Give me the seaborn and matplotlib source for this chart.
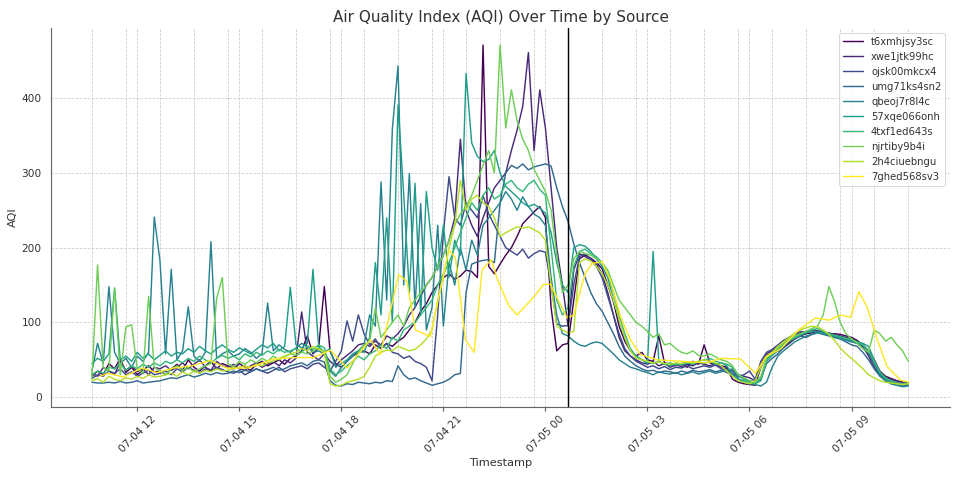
import matplotlib
matplotlib.use("Agg")
import matplotlib.pyplot as plt
import matplotlib.dates as mdates
import seaborn as sns
import pandas as pd
import numpy as np

# sources, in legend order
sources = ["t6xmhjsy3sc", "xwe1jtk99hc", "ojsk00mkcx4", "umg71ks4sn2", "qbeoj7r8l4c",
           "57xqe066onh", "4txf1ed643s", "njrtiby9b4i", "2h4ciuebngu", "7ghed568sv3"]

start = pd.Timestamp("2024-07-04 10:40")
step_min = 10   # readings every 10 minutes for the first nine sources

t6xm = [28, 35, 30, 45, 38, 52, 33, 40, 30, 36, 42, 34,
        35, 30, 38, 44, 36, 50, 40, 35, 42, 48, 38, 45,
        42, 38, 45, 40, 36, 44, 48, 42, 46, 50, 44, 52,
        55, 62, 82, 58, 66, 148, 62, 45, 40, 48, 55, 60,
        62, 58, 70, 65, 72, 68, 75, 80, 90, 100, 115, 125,
        140, 150, 160, 165, 158, 162, 170, 168, 160, 471, 175, 165,
        178, 190, 200, 215, 232, 240, 248, 255, 240, 120, 62, 70,
        72, 130, 185, 190, 186, 180, 172, 150, 128, 95, 75, 62,
        55, 60, 50, 48, 82, 46, 44, 42, 45, 40, 48, 44,
        70, 46, 44, 42, 40, 24, 20, 18, 17, 16, 40, 56,
        58, 62, 66, 72, 78, 82, 85, 86, 88, 86, 84, 85,
        84, 82, 80, 76, 70, 62, 50, 35, 28, 25, 22, 20,
        18]

xwe1 = [32, 28, 40, 35, 30, 48, 36, 42, 34, 38, 30, 40,
        38, 42, 36, 40, 46, 38, 44, 50, 40, 36, 48, 42,
        40, 44, 38, 36, 42, 46, 40, 44, 48, 42, 50, 46,
        52, 114, 60, 55, 50, 58, 48, 42, 50, 56, 62, 70,
        72, 68, 75, 70, 82, 78, 85, 95, 110, 120, 135, 150,
        160, 175, 190, 210, 240, 345, 250, 230, 215, 240, 260, 280,
        290, 300, 330, 357, 389, 461, 330, 411, 360, 280, 200, 150,
        95, 170, 192, 188, 184, 178, 165, 140, 110, 80, 62, 55,
        50, 46, 44, 48, 42, 45, 40, 43, 41, 44, 42, 46,
        44, 42, 45, 40, 38, 35, 30, 28, 26, 22, 45, 58,
        62, 68, 74, 80, 84, 86, 88, 90, 89, 87, 86, 84,
        82, 80, 78, 75, 68, 55, 40, 30, 26, 24, 22, 20,
        19]

ojsk = [25, 30, 28, 35, 32, 38, 30, 34, 28, 32, 36, 30,
        32, 35, 30, 38, 34, 40, 36, 32, 38, 35, 40, 37,
        34, 32, 36, 30, 34, 38, 35, 32, 36, 40, 34, 38,
        40, 42, 38, 44, 46, 40, 35, 48, 62, 102, 75, 110,
        85, 70, 78, 65, 72, 60, 58, 52, 55, 48, 45, 40,
        22, 110, 220, 295, 240, 230, 260, 250, 240, 270, 245, 230,
        215, 200, 195, 190, 198, 186, 192, 196, 194, 150, 98, 95,
        96, 150, 188, 192, 185, 175, 160, 135, 110, 85, 65, 55,
        48, 44, 40, 42, 38, 41, 37, 40, 39, 42, 38, 40,
        42, 40, 43, 38, 36, 32, 28, 30, 35, 24, 48, 60,
        64, 70, 76, 80, 84, 88, 86, 90, 88, 86, 84, 82,
        80, 78, 75, 72, 66, 58, 45, 32, 25, 22, 20, 18,
        18]

umg71 = [20, 19, 19, 20, 19, 21, 19, 20, 22, 19, 20, 21,
         22, 24, 26, 25, 28, 30, 27, 29, 32, 30, 33, 31,
         32, 35, 33, 36, 34, 38, 35, 37, 40, 36, 38, 42,
         44, 46, 42, 48, 50, 47, 22, 16, 15, 18, 17, 20,
         19, 18, 20, 19, 22, 21, 42, 30, 24, 26, 22, 19,
         16, 18, 20, 24, 30, 32, 140, 178, 181, 183, 184, 180,
         260, 300, 310, 306, 312, 304, 308, 310, 312, 309, 280, 255,
         235, 205, 180, 160, 140, 125, 115, 100, 85, 68, 55, 48,
         42, 38, 35, 36, 33, 35, 34, 32, 35, 33, 36, 34,
         35, 37, 34, 36, 33, 30, 28, 25, 22, 20, 24, 45,
         52, 58, 66, 74, 78, 82, 80, 84, 86, 84, 82, 80,
         78, 74, 70, 68, 60, 50, 38, 28, 22, 18, 16, 15,
         16]

qbeoj = [35, 72, 45, 148, 60, 45, 52, 40, 55, 48, 60, 241,
         183, 58, 171, 50, 62, 121, 55, 48, 60, 208, 52, 58,
         62, 55, 58, 65, 60, 52, 58, 126, 62, 70, 64, 60,
         66, 72, 68, 60, 62, 58, 35, 28, 40, 48, 55, 62,
         70, 110, 95, 288, 130, 359, 443, 150, 299, 120, 259, 90,
         120, 230, 95, 180, 150, 200, 170, 210, 190, 230, 240, 250,
         260, 275, 265, 250, 268, 255, 245, 240, 230, 160, 110, 85,
         82, 75, 70, 68, 72, 74, 72, 65, 58, 50, 45, 40,
         38, 35, 33, 30, 34, 32, 31, 33, 30, 32, 34, 31,
         33, 35, 32, 34, 36, 38, 25, 20, 18, 17, 15, 20,
         40, 55, 62, 68, 74, 78, 82, 84, 86, 85, 83, 80,
         78, 76, 74, 72, 70, 60, 45, 30, 22, 18, 16, 14,
         15]

xqe57 = [45, 52, 48, 58, 146, 50, 55, 48, 60, 52, 58, 50,
         56, 62, 55, 60, 58, 65, 60, 68, 62, 58, 65, 70,
         64, 60, 66, 62, 58, 64, 70, 66, 72, 62, 68, 147,
         70, 66, 72, 171, 68, 60, 65, 40, 45, 50, 58, 62,
         60, 80, 180, 110, 240, 100, 391, 272, 140, 286, 110, 275,
         200, 170, 230, 160, 210, 190, 433, 340, 322, 315, 318, 330,
         300, 282, 275, 268, 260, 255, 258, 253, 246, 220, 180, 150,
         140, 200, 204, 202, 195, 185, 175, 160, 130, 105, 80, 62,
         55, 50, 45, 195, 48, 44, 42, 45, 43, 46, 44, 47,
         45, 48, 44, 46, 42, 30, 24, 22, 20, 18, 22, 48,
         56, 62, 70, 76, 80, 83, 86, 88, 87, 86, 84, 82,
         80, 78, 76, 74, 72, 68, 50, 32, 24, 20, 18, 17,
         18]

txf4 = [30, 35, 32, 40, 38, 45, 36, 42, 38, 44, 40, 46,
        42, 48, 45, 50, 46, 52, 48, 55, 50, 46, 52, 56,
        52, 55, 50, 58, 54, 60, 56, 62, 58, 64, 60, 62,
        65, 60, 68, 64, 70, 66, 38, 30, 35, 42, 48, 55,
        50, 58, 62, 70, 65, 80, 75, 90, 95, 100, 110, 120,
        130, 150, 165, 180, 200, 220, 240, 260, 250, 270, 280, 265,
        270, 285, 290, 280, 275, 285, 290, 278, 270, 200, 130, 110,
        120, 175, 195, 198, 192, 188, 180, 165, 140, 110, 85, 65,
        55, 50, 48, 45, 48, 44, 46, 43, 45, 47, 44, 48,
        50, 52, 48, 46, 44, 40, 30, 24, 20, 18, 24, 50,
        58, 64, 70, 76, 80, 84, 88, 90, 92, 88, 85, 83,
        81, 79, 77, 74, 70, 62, 48, 34, 26, 22, 19, 18,
        19]

njrt = [25, 177, 40, 35, 146, 30, 94, 97, 38, 32, 135, 40,
        35, 30, 38, 42, 36, 40, 34, 38, 42, 45, 132, 160,
        45, 40, 48, 44, 50, 46, 52, 48, 55, 50, 54, 58,
        56, 60, 58, 62, 66, 60, 28, 20, 24, 30, 45, 60,
        70, 75, 119, 80, 90, 100, 110, 95, 120, 130, 140, 150,
        160, 175, 190, 210, 230, 245, 255, 270, 290, 310, 330, 300,
        471, 360, 411, 370, 345, 330, 305, 290, 275, 250, 190, 140,
        150, 185, 195, 192, 190, 185, 180, 170, 150, 130, 120, 110,
        100, 95, 88, 80, 85, 70, 72, 65, 60, 58, 62, 56,
        55, 58, 54, 50, 48, 42, 30, 26, 22, 20, 28, 52,
        60, 66, 72, 78, 82, 85, 88, 92, 95, 110, 148, 128,
        100, 85, 78, 72, 65, 60, 90, 85, 75, 80, 70, 62,
        48]

h4ci = [22, 25, 20, 28, 24, 22, 26, 24, 28, 25, 30, 27,
        28, 30, 32, 28, 34, 30, 35, 32, 36, 34, 38, 35,
        36, 38, 40, 42, 40, 44, 42, 46, 48, 52, 55, 58,
        60, 65, 62, 68, 64, 60, 18, 15, 16, 20, 22, 24,
        28, 40, 55, 60, 63, 62, 68, 65, 62, 64, 70, 78,
        90, 130, 160, 200, 230, 290, 250, 265, 270, 260, 255, 240,
        215, 220, 224, 228, 226, 228, 224, 220, 210, 150, 95, 90,
        86, 88, 180, 185, 182, 175, 165, 150, 130, 105, 80, 62,
        52, 50, 48, 46, 47, 45, 44, 46, 45, 47, 46, 48,
        50, 48, 46, 42, 35, 28, 22, 20, 18, 22, 40, 55,
        60, 68, 74, 80, 86, 90, 93, 95, 94, 90, 84, 76,
        66, 58, 52, 45, 38, 30, 26, 22, 20, 19, 18, 17,
        18]

# 7ghed568sv3 reports less often: hours after start, value
ghed_hours = [0.24, 0.48, 0.92, 1.47, 1.91, 2.39, 2.94, 3.48, 3.97, 4.60,
              5.33, 5.92, 6.51, 7.01, 7.50, 8.19, 8.48, 9.02, 9.26, 9.51,
              9.95, 10.49, 10.69, 10.98, 11.24, 11.47, 11.74, 11.91, 12.25, 12.50,
              12.99, 13.28, 13.48, 13.97, 14.17, 14.36, 14.51, 14.71, 15.00, 15.24,
              15.54, 15.83, 16.13, 16.62, 18.09, 18.48, 19.07, 19.51, 19.81, 20.26,
              20.78, 21.27, 21.67, 22.01, 22.30, 22.55, 22.79, 23.09, 23.38, 23.77,
              24.02]
ghed = [28, 32, 27, 39, 33, 39, 42, 49, 39, 39,
        51, 53, 53, 63, 39, 77, 57, 164, 155, 90,
        81, 197, 186, 77, 60, 170, 184, 159, 123, 110,
        134, 151, 151, 106, 110, 143, 166, 179, 181, 157,
        108, 77, 57, 50, 46, 52, 51, 32, 54, 65,
        90, 106, 103, 110, 107, 141, 121, 77, 41, 23,
        20]

regular = [t6xm, xwe1, ojsk, umg71, qbeoj, xqe57, txf4, njrt, h4ci]

frames = []
for name, vals in zip(sources[:9], regular):
    ts = start + pd.to_timedelta(np.arange(len(vals)) * step_min, unit="min")
    frames.append(pd.DataFrame({"Timestamp": ts, "AQI": vals, "Source": name}))
frames.append(pd.DataFrame({"Timestamp": start + pd.to_timedelta(ghed_hours, unit="h"),
                            "AQI": ghed, "Source": sources[9]}))
df = pd.concat(frames, ignore_index=True)

sns.set_theme(style="whitegrid")
plt.rcParams["font.family"] = ["DejaVu Sans"]
plt.rcParams["text.color"] = "#333333"
plt.rcParams["axes.labelcolor"] = "#333333"
plt.rcParams["xtick.color"] = "#333333"
plt.rcParams["ytick.color"] = "#333333"

colors = [matplotlib.cm.viridis(v) for v in np.linspace(0, 1, 10)]

fig, ax = plt.subplots(figsize=(14, 7))
fig.subplots_adjust(left=0.053, right=0.99, top=0.942, bottom=0.153)

# hourly guide lines from the first reading
for k in range(25):
    ax.axvline(start + pd.Timedelta(hours=k), color="#cccccc", linestyle="--", linewidth=0.8, zorder=0)

sns.lineplot(data=df, x="Timestamp", y="AQI", hue="Source", hue_order=sources,
             palette=colors, estimator=None, linewidth=1.5, ax=ax)

ax.axvline(start + pd.Timedelta(hours=14), color="black", linewidth=1.5)

ax.grid(True, linestyle="--", color="#cccccc", linewidth=0.8)
ax.set_xlim(start - pd.Timedelta(hours=1.206), start + pd.Timedelta(hours=25.24))
ax.set_ylim(-12.5, 494)
ax.set_yticks([0, 100, 200, 300, 400])
ax.xaxis.set_major_locator(mdates.HourLocator(byhour=range(0, 24, 3)))
ax.xaxis.set_major_formatter(mdates.DateFormatter("%m-%d %H"))
plt.xticks(rotation=45, fontsize=11)
plt.yticks(fontsize=11)
ax.tick_params(axis="x", bottom=True, length=4, color="#666666")

for side in ["top", "right"]:
    ax.spines[side].set_visible(False)
for side in ["left", "bottom"]:
    ax.spines[side].set_color("#666666")
    ax.spines[side].set_linewidth(1.2)

ax.set_title("Air Quality Index (AQI) Over Time by Source", fontsize=16)
ax.set_xlabel("Timestamp", fontsize=12)
ax.set_ylabel("AQI", fontsize=12)
sns.move_legend(ax, "upper right", title=None, fontsize=10.5)

fig.savefig("out.png", dpi=960 / 14)
